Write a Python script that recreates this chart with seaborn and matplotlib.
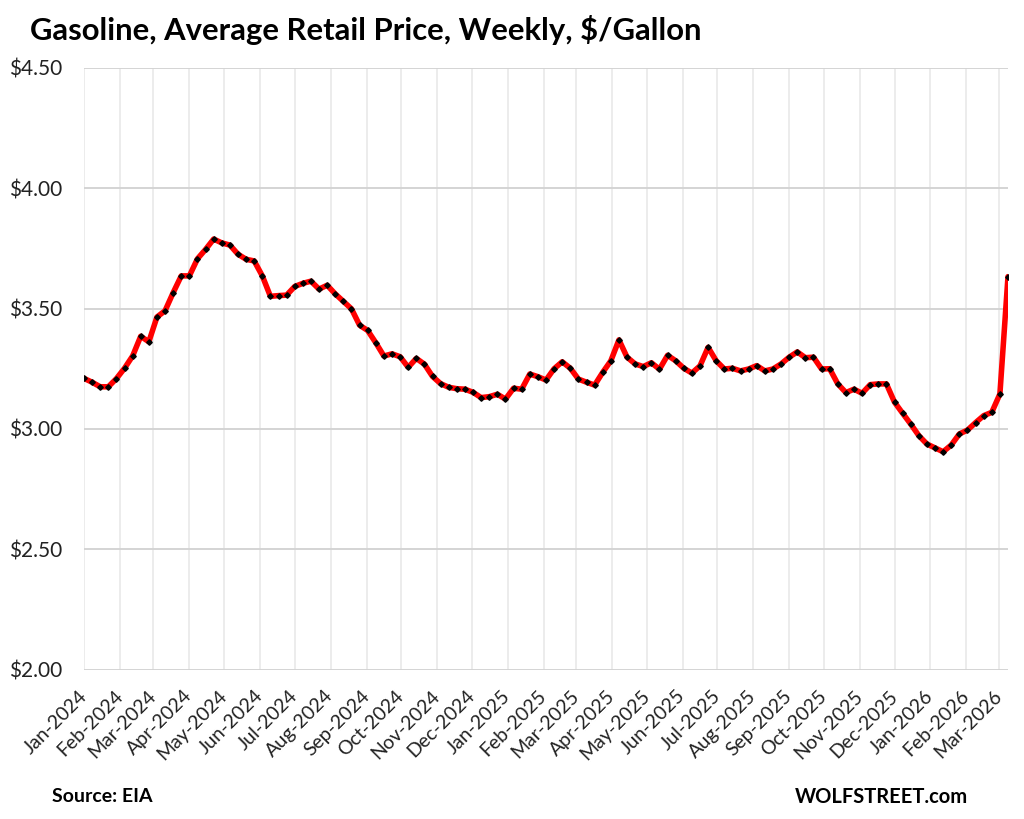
import matplotlib
matplotlib.use("Agg")
import matplotlib.pyplot as plt
import matplotlib.dates as mdates
from matplotlib.ticker import FuncFormatter
import pandas as pd
import seaborn as sns

# ---- data (weekly, $/gallon) ----
start_date = "2024-01-01"
prices = [
    3.210, 3.194, 3.175, 3.175, 3.209, 3.252, 3.303, 3.385, 3.362, 3.465,
    3.491, 3.566, 3.636, 3.636, 3.707, 3.746, 3.789, 3.773, 3.764, 3.726,
    3.705, 3.698, 3.636, 3.551, 3.554, 3.556, 3.592, 3.605, 3.614, 3.581,
    3.597, 3.561, 3.530, 3.499, 3.431, 3.409, 3.358, 3.303, 3.312, 3.300,
    3.256, 3.293, 3.269, 3.218, 3.188, 3.173, 3.167, 3.165, 3.152, 3.130,
    3.134, 3.144, 3.124, 3.169, 3.165, 3.228, 3.217, 3.203, 3.250, 3.279,
    3.252, 3.207, 3.194, 3.182, 3.235, 3.283, 3.370, 3.298, 3.270, 3.259,
    3.275, 3.248, 3.306, 3.283, 3.252, 3.232, 3.262, 3.339, 3.283, 3.249,
    3.252, 3.241, 3.249, 3.263, 3.241, 3.249, 3.270, 3.298, 3.320, 3.296,
    3.298, 3.249, 3.250, 3.187, 3.151, 3.165, 3.148, 3.184, 3.187, 3.187,
    3.111, 3.065, 3.020, 2.972, 2.937, 2.921, 2.905, 2.933, 2.979, 2.995,
    3.026, 3.055, 3.069, 3.145, 3.633,
]
dates = pd.date_range(start_date, periods=len(prices), freq="7D")
y_ticks = [2.00, 2.50, 3.00, 3.50, 4.00, 4.50]
title = "Gasoline, Average Retail Price, Weekly, $/Gallon"
source = "Source: EIA"
brand = "WOLFSTREET.com"

df = pd.DataFrame({"date": dates, "price": prices})

sns.set_style("white")
plt.rcParams["font.family"] = ["Lato", "DejaVu Sans"]

fig = plt.figure(figsize=(10.24, 8.19), dpi=100)
ax = fig.add_axes([84 / 1024, 1 - 669.5 / 819, 924 / 1024, (669.5 - 68) / 819])

sns.lineplot(data=df, x="date", y="price", ax=ax, color="#ff0000",
             linewidth=4.0, zorder=3)
ax.plot(df["date"], df["price"], linestyle="none", marker="D",
        markersize=2.8, color="black", zorder=4)

ax.set_xlim(dates[0], dates[-1])
ax.set_ylim(2.0, 4.5)
ax.set_yticks(y_ticks)
ax.yaxis.set_major_formatter(FuncFormatter(lambda v, p: f"${v:.2f}"))
ax.xaxis.set_major_locator(mdates.MonthLocator())
ax.xaxis.set_major_formatter(mdates.DateFormatter("%b-%Y"))

ax.grid(axis="y", color="#d4d4d4", linewidth=1.4, zorder=1)
ax.grid(axis="x", color="#e9e9e9", linewidth=1.2, zorder=1)
for s in ax.spines.values():
    s.set_visible(False)

ax.tick_params(axis="y", length=0, pad=16, labelsize=15, labelcolor="#222222")
ax.tick_params(axis="x", length=0, pad=17, labelsize=14, labelcolor="#222222")
for lbl in ax.get_xticklabels():
    lbl.set_rotation(45)
    lbl.set_ha("right")
    lbl.set_va("center")
    lbl.set_rotation_mode("anchor")
ax.set_xlabel("")
ax.set_ylabel("")

fig.text(30 / 1024, 1 - 30 / 819, title, fontsize=22.3, fontweight="bold",
         ha="left", va="center", color="black")
fig.text(152 / 1024, 1 - 797 / 819, source, fontsize=14, fontweight="bold",
         ha="right", va="center", color="black")
fig.text(795 / 1024, 1 - 797 / 819, brand, fontsize=14.5, fontweight="bold",
         ha="left", va="center", color="black")

fig.savefig("out.png", dpi=100, facecolor="white")
